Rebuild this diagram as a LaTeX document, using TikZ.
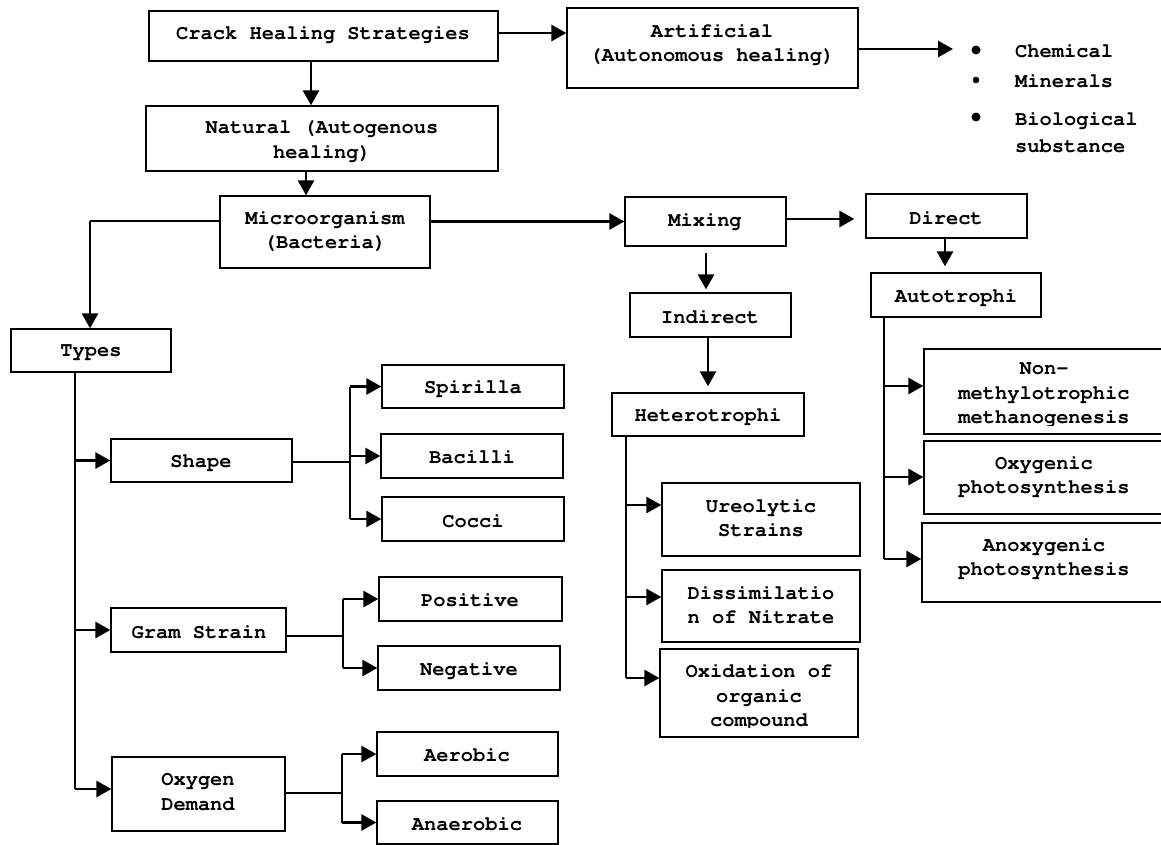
\documentclass[tikz,border=0pt]{standalone}
\usepackage[T1]{fontenc}
\usepackage{courier}
\usepackage{pdfrender}
\usetikzlibrary{arrows.meta,fit}
\tikzset{
  box/.style={draw, line width=1.3pt, inner sep=0pt},
  txt/.style={font=\fontsize{20.4}{24.5}\selectfont\ttfamily\bfseries\pdfrender{TextRenderingMode=2,LineWidth=0.45pt}, align=center, inner sep=0pt},
  ltxt/.style={font=\fontsize{20.4}{27}\selectfont\ttfamily\bfseries\pdfrender{TextRenderingMode=2,LineWidth=0.45pt}, align=left, inner sep=0pt, anchor=west},
  arr/.style={line width=2.8pt, -{Triangle[length=15pt,width=16pt]}},
  trunk/.style={line width=1.3pt},
}
\begin{document}
\begin{tikzpicture}[x=1pt,y=-1pt]
\clip (0,0) rectangle (1161,845);
\fill[white] (0,0) rectangle (1161,845);
% ---------- boxes ----------
\node[box, fit={(149,11) (498,61)}] (crack) {};
\node[txt] (crack-t) at (323,34) {Crack Healing Strategies};
\node[box, fit={(567,8) (858,88)}] (artif) {};
\node[txt] (artif-t) at (712,44) {Artificial\\(Autonomous healing)};
\node[box, fit={(146,106) (498,171)}] (natural) {};
\node[txt] (natural-t) at (322,141) {Natural (Autogenous\\healing)};
\node[box, fit={(220,196) (430,268)}] (micro) {};
\node[txt] (micro-t) at (325,231) {Microorganism\\(Bacteria)};
\node[box, fit={(625,197) (786,246)}] (mixing) {};
\node[txt] (mixing-t) at (705,221) {Mixing};
\node[box, fit={(866,194) (1027,238)}] (direct) {};
\node[txt] (direct-t) at (946,218) {Direct};
\node[box, fit={(871,273) (1041,317)}] (auto) {};
\node[txt] (auto-t) at (956,297) {Autotrophi};
\node[box, fit={(630,293) (791,337)}] (indirect) {};
\node[txt] (indirect-t) at (710,317) {Indirect};
\node[box, fit={(612,393) (804,436)}] (hetero) {};
\node[txt] (hetero-t) at (708,416) {Heterotrophi};
\node[box, fit={(662,483) (860,556)}] (ureo) {};
\node[txt] (ureo-t) at (761,518) {Ureolytic\\Strains};
\node[box, fit={(662,570) (860,642)}] (dissim) {};
\node[txt] (dissim-t) at (761,605) {Dissimilatio\\n of Nitrate};
\node[box, fit={(660,649) (858,737)}] (oxid) {};
\begin{scope}
\clip (660,649) rectangle (858,727);
\node[txt] (oxid-t) at (759,697) {Oxidation of\\organic\\compound};
\end{scope}
\node[box, fit={(924,349) (1180,434)}] (nonmeth) {};
\begin{scope}
\clip (924,349) rectangle (1161,425);
\node[txt] (nonmeth-t) at (1044,395) {Non-\\methylotrophic\\methanogenesis};
\end{scope}
\node[box, fit={(924,441) (1180,514)}] (oxyg) {};
\node[txt] (oxyg-t) at (1044,476) {Oxygenic\\photosynthesis};
\node[box, fit={(922,523) (1180,602)}] (anox) {};
\node[txt] (anox-t) at (1044,558) {Anoxygenic\\photosynthesis};
\node[box, fit={(11,329) (171,372)}] (types) {};
\node[txt] (types-t) at (91,352) {Types};
\node[box, fit={(111,439) (292,482)}] (shape) {};
\node[txt] (shape-t) at (201,462) {Shape};
\node[box, fit={(382,365) (564,408)}] (spir) {};
\node[txt] (spir-t) at (473,388) {Spirilla};
\node[box, fit={(381,434) (563,478)}] (bac) {};
\node[txt] (bac-t) at (472,457) {Bacilli};
\node[box, fit={(382,497) (564,541)}] (cocci) {};
\node[txt] (cocci-t) at (473,521) {Cocci};
\node[box, fit={(111,608) (286,652)}] (gram) {};
\node[txt] (gram-t) at (199,632) {Gram Strain};
\node[box, fit={(379,577) (562,621)}] (pos) {};
\node[txt] (pos-t) at (470,600) {Positive};
\node[box, fit={(378,646) (560,690)}] (neg) {};
\node[txt] (neg-t) at (469,670) {Negative};
\node[box, fit={(112,757) (285,831)}] (oxy) {};
\node[txt] (oxy-t) at (198,792) {Oxygen\\Demand};
\node[box, fit={(377,732) (558,776)}] (aer) {};
\node[txt] (aer-t) at (467,755) {Aerobic};
\node[box, fit={(377,801) (558,844)}] (anaer) {};
\node[txt] (anaer-t) at (467,824) {Anaerobic};
% ---------- bullet list ----------
\fill (976,50) circle (4.5);
\fill (976,80) circle (3.3);
\fill (976,117) circle (4.5);
\node[ltxt] (chem) at (1015,51) {Chemical};
\node[ltxt] (mine) at (1015,81) {Minerals};
\node[ltxt] (bio) at (1015,132) {Biological\\substance};
% ---------- connectors ----------
\coordinate (ca) at (0,33);
\draw[arr] (crack.east |- ca) -- (artif.west |- ca);
\coordinate (ab) at (953,49);
\draw[arr] (artif.east |- ab) -- (ab);
\coordinate (cn) at (311,0);
\draw[arr] (crack.south -| cn) -- (natural.north -| cn);
\coordinate (nm) at (306,0);
\draw[arr] (natural.south -| nm) -- (micro.north -| nm);
\coordinate (mt) at (90,221);
\draw[trunk] (micro.west |- mt) -- (mt);
\draw[arr] (mt) -- (types.north -| mt);
\draw[arr] (micro.east |- mixing.west) -- (mixing.west);
\coordinate (md) at (0,219);
\draw[arr, shorten >=11pt] (mixing.east |- md) -- (direct.west |- md);
\coordinate (dx) at (945,0);
\draw[arr, shorten >=6pt] (direct.south -| dx) -- (auto.north -| dx);
\coordinate (mx) at (706,0);
\draw[arr, shorten <=6pt, shorten >=3pt] (mixing.south -| mx) -- (indirect.north -| mx);
\coordinate (ix) at (708,0);
\draw[arr, shorten >=6pt] (indirect.south -| ix) -- (hetero.north -| ix);
% types trunk
\coordinate (tt) at (75,789);
\draw[trunk] (types.south -| tt) -- (tt);
\draw[arr] (tt |- shape.west) -- (shape.west);
\draw[arr] (tt |- gram.west) -- (gram.west);
\draw[arr] (tt) -- (oxy.west |- tt);
% shape split
\coordinate (sx) at (350,462);
\draw[trunk] (shape.east |- sx) -- (sx);
\draw[trunk] (sx |- spir.west) -- (sx |- cocci.west);
\draw[arr] (sx |- spir.west) -- (spir.west);
\draw[arr] (sx |- bac.west) -- (bac.west);
\draw[arr] (sx |- cocci.west) -- (cocci.west);
% gram split
\coordinate (gx) at (343,636);
\draw[trunk] (gram.east |- gx) -- (gx);
\draw[trunk] (gx |- pos.west) -- (gx |- neg.west);
\draw[arr] (gx |- pos.west) -- (pos.west);
\draw[arr] (gx |- neg.west) -- (neg.west);
% oxygen split
\coordinate (ox) at (342,793);
\draw[trunk] (oxy.east |- ox) -- (ox);
\draw[trunk] (ox |- aer.west) -- (ox |- anaer.west);
\draw[arr] (ox |- aer.west) -- (aer.west);
\draw[arr] (ox |- anaer.west) -- (anaer.west);
% heterotrophi trunk
\coordinate (h1) at (626,505);
\coordinate (h2) at (626,597);
\coordinate (h3) at (626,678);
\draw[trunk] (hetero.south -| h1) -- (h3);
\draw[arr] (h1) -- (ureo.west |- h1);
\draw[arr] (h2) -- (dissim.west |- h2);
\draw[arr] (h3) -- (oxid.west |- h3);
% autotrophi trunk
\coordinate (a1) at (884,386);
\coordinate (a2) at (884,477);
\coordinate (a3) at (884,559);
\draw[trunk] (auto.south -| a1) -- (a3);
\draw[arr] (a1) -- (nonmeth.west |- a1);
\draw[arr] (a2) -- (oxyg.west |- a2);
\draw[arr] (a3) -- (anox.west |- a3);
\end{tikzpicture}
\end{document}
